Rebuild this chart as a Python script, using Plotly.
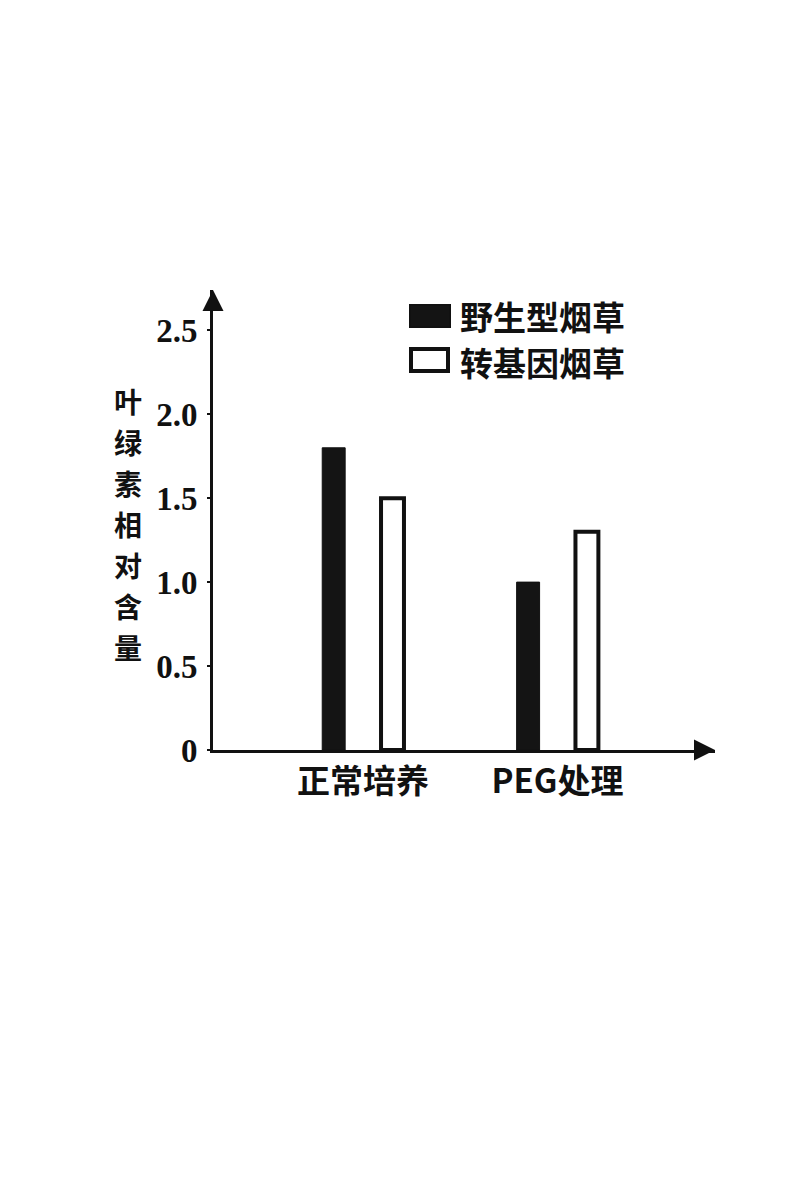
import plotly.graph_objects as go

categories = ["正常培养", "PEG处理"]
series_names = ["野生型烟草", "转基因烟草"]
wild_values = [1.8, 1.0]
trans_values = [1.5, 1.3]
y_tickvals = [0, 0.5, 1.0, 1.5, 2.0, 2.5]
y_ticktext = ["0", "0.5", "1.0", "1.5", "2.0", "2.5"]
y_title = "叶绿素相对含量"

OFF = 8  # default page body margin
W, H = 800, 1188
L, R, T, B = 213 - OFF, 85 + OFF, 290 - OFF, 438 + OFF
pw, ph = W - L - R, H - T - B

def px(x):
    return (x - OFF - L) / pw

def py(y):
    return (H - B - (y - OFF)) / ph

cjk = "Noto Sans CJK SC"
ink = "#111111"

fig = go.Figure()
fig.add_trace(go.Bar(x=categories, y=wild_values, name=series_names[0],
                     marker=dict(color="#141414", line=dict(color="#111111", width=1))))
fig.add_trace(go.Bar(x=categories, y=trans_values, name=series_names[1],
                     marker=dict(color="white", line=dict(color="#111111", width=4))))

fig.update_layout(
    width=W, height=H,
    margin=dict(l=L, r=R, t=T, b=B),
    paper_bgcolor="white", plot_bgcolor="white",
    barmode="group", bargap=0.395, bargroupgap=0.61,
    showlegend=False,
    xaxis=dict(range=[-0.772, 1.81], showline=True, linecolor=ink, linewidth=3,
               showgrid=False, zeroline=False, ticks="",
               tickfont=dict(family=cjk, size=33, color=ink, weight="bold")),
    yaxis=dict(range=[0, 2.74], showline=True, linecolor=ink, linewidth=3,
               showgrid=False, zeroline=False, tickvals=y_tickvals, ticktext=y_ticktext,
               ticks="outside", ticklen=3, tickwidth=2, tickcolor=ink,
               ticklabelstandoff=3,
               tickfont=dict(family="Liberation Serif", size=33, color=ink, weight="bold")),
)

# axis arrows
fig.add_annotation(xref="paper", yref="paper", x=0, y=1.0, text="", showarrow=True,
                   ax=0, ay=22, arrowhead=2, arrowsize=1.4,
                   arrowwidth=3, arrowcolor=ink)
fig.add_annotation(xref="paper", yref="paper", x=1.0, y=0, text="", showarrow=True,
                   ax=-22, ay=0, arrowhead=2, arrowsize=1.4,
                   arrowwidth=3, arrowcolor=ink)

# y-axis title, characters stacked upright
pitch = 41
first = 401
for i, ch in enumerate(y_title):
    fig.add_annotation(xref="paper", yref="paper", x=px(128), y=py(first + i * pitch),
                       text=ch, showarrow=False,
                       font=dict(family=cjk, size=28, color=ink, weight="bold"),
                       xanchor="center", yanchor="middle")

# legend
fig.add_shape(type="rect", xref="paper", yref="paper", x0=px(410), x1=px(450),
              y0=py(327), y1=py(305), fillcolor="#141414", line=dict(color=ink, width=2))
fig.add_shape(type="rect", xref="paper", yref="paper", x0=px(411), x1=px(448),
              y0=py(371), y1=py(349), fillcolor="white", line=dict(color=ink, width=4))
fig.add_annotation(xref="paper", yref="paper", x=px(458), y=py(316), text=series_names[0],
                   showarrow=False, xanchor="left", yanchor="middle",
                   font=dict(family=cjk, size=33, color=ink, weight="bold"))
fig.add_annotation(xref="paper", yref="paper", x=px(458), y=py(362), text=series_names[1],
                   showarrow=False, xanchor="left", yanchor="middle",
                   font=dict(family=cjk, size=33, color=ink, weight="bold"))

fig.write_html("out.html")
